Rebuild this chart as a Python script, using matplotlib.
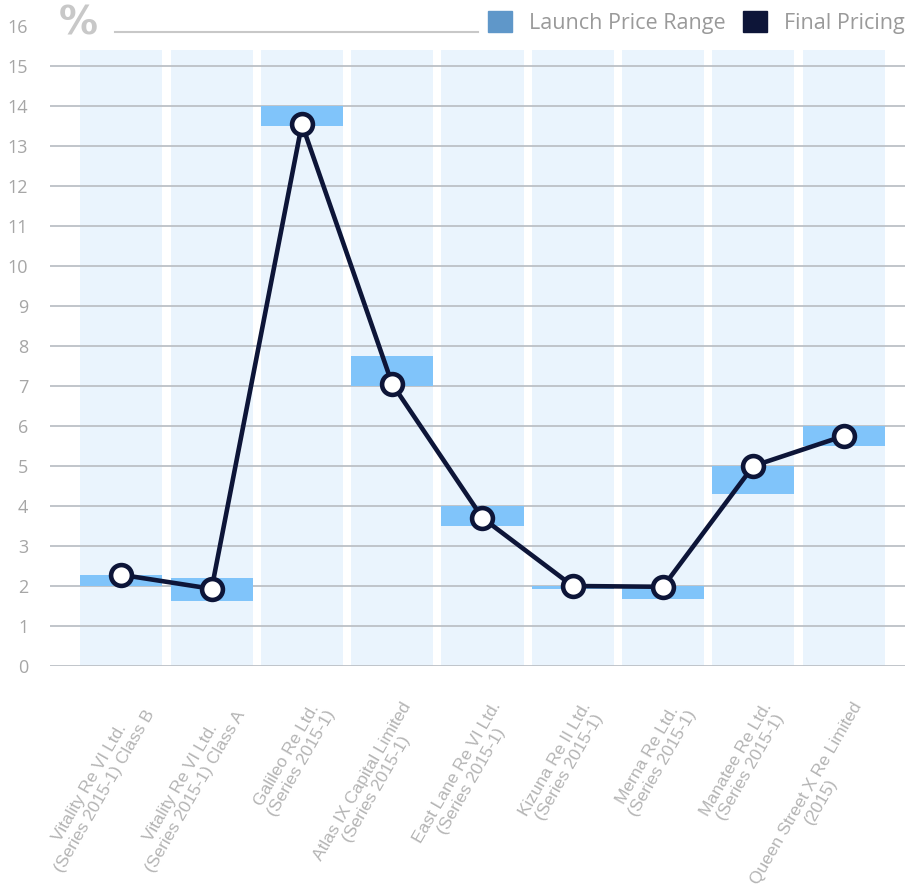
import numpy as np
import matplotlib
matplotlib.use("Agg")
import matplotlib.pyplot as plt
from matplotlib.patches import Patch

# deal names (x labels)
deals = [
    "Vitality Re VI Ltd.\n(Series 2015-1) Class B",
    "Vitality Re VI Ltd.\n(Series 2015-1) Class A",
    "Galileo Re Ltd.\n(Series 2015-1)",
    "Atlas IX Capital Limited\n(Series 2015-1)",
    "East Lane Re VI Ltd.\n(Series 2015-1)",
    "Kizuna Re II Ltd.\n(Series 2015-1)",
    "Merna Re Ltd.\n(Series 2015-1)",
    "Manatee Re Ltd.\n(Series 2015-1)",
    "Queen Street X Re Limited\n(2015)",
]
# launch price range, low and high
launch_low = [2.0, 1.63, 13.5, 7.0, 3.5, 1.92, 1.68, 4.3, 5.5]
launch_high = [2.28, 2.2, 14.0, 7.75, 4.0, 2.0, 2.0, 5.0, 6.0]
# final pricing
final = [2.28, 1.93, 13.55, 7.05, 3.7, 2.0, 1.98, 5.0, 5.75]

navy = "#0d1538"
bar_col = "#80c4fa"
bg_col = "#eaf4fd"
grey = "#a6a6a6"

fig = plt.figure(figsize=(9.16, 8.96), dpi=100)
ax = fig.add_axes([0.055, 0.2567, 0.933, 0.7143])

x = np.arange(len(deals))
low = np.array(launch_low)
high = np.array(launch_high)

# light background columns
ax.bar(x, 15.4, width=0.91, color=bg_col, zorder=1)
# gridlines
for v in range(16):
    ax.axhline(v, color="#bcc0c6", lw=1.3, zorder=2)
# launch range
ax.bar(x, high - low, bottom=low, width=0.91, color=bar_col, zorder=3)
# final pricing line
ax.plot(x, final, color=navy, lw=3.3, marker="o", markersize=15,
        markerfacecolor="white", markeredgecolor=navy, markeredgewidth=3.3, zorder=4)

ax.set_xlim(-0.786, 8.68)
ax.set_ylim(0, 16)
ax.set_yticks(range(17))
ax.set_yticklabels([str(v) for v in range(17)], fontsize=13, color=grey,
                   family="Open Sans")
ax.tick_params(axis="y", length=0, pad=16)
ax.set_xticks(x)
ax.set_xticklabels([])
ax.tick_params(axis="x", length=0)
for s in ax.spines.values():
    s.set_visible(False)

for xi, lab in zip(x, deals):
    ax.annotate(lab, xy=(xi, 0), xycoords="data", xytext=(6, -24),
                textcoords="offset points", rotation=60, rotation_mode="anchor",
                ha="right", va="top", multialignment="center",
                fontsize=12.5, color="#b4b4b4", family="Liberation Sans",
                linespacing=1.15)

# % marker and rule at the top
fig.text(0.064, 0.974, "%", fontsize=28, color="#c8c8c8", fontweight="bold",
         ha="left", va="center", family="DejaVu Sans")
fig.add_artist(plt.Line2D([0.126, 0.522], [0.964, 0.964], color="#c8c8c8", lw=1.5))

handles = [Patch(color="#5f97c9", label="Launch Price Range"),
           Patch(color=navy, label="Final Pricing")]
fig.legend(handles=handles, loc="center right", bbox_to_anchor=(1.009, 0.975),
           ncol=2, frameon=False, handlelength=1.1, handleheight=1.1,
           handletextpad=0.8, columnspacing=0.8,
           prop={"family": "Open Sans", "size": 15.5})
for t in fig.legends[0].get_texts():
    t.set_color("#9a9a9a")

fig.savefig("out.png", dpi=100)
